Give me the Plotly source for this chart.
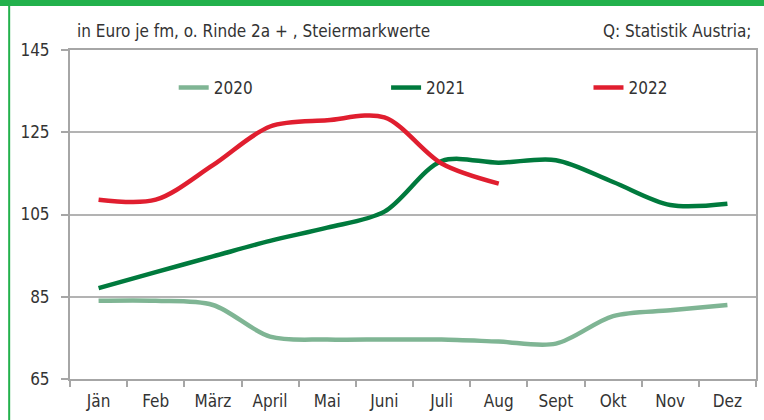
import plotly.graph_objects as go

months = ["Jän", "Feb", "März", "April", "Mai", "Juni", "Juli", "Aug", "Sept", "Okt", "Nov", "Dez"]
v2020 = [84.0, 84.0, 83.0, 75.3, 74.6, 74.6, 74.6, 74.1, 73.6, 80.3, 81.7, 83.0]
v2021 = [87.1, 91.0, 94.8, 98.6, 101.8, 105.7, 118.0, 117.6, 118.2, 112.9, 107.3, 107.6]
v2022 = [108.6, 108.6, 117.0, 126.4, 127.9, 128.6, 117.4, 112.5]
series_names = ["2020", "2021", "2022"]
colors = ["#7FB594", "#007A3D", "#E01E2F"]

FONT = "Liberation Sans Narrow, DejaVu Sans Condensed, sans-serif"
TXT = "#333333"
FS = 17

fig = go.Figure()
legend_ids = ["legend", "legend2", "legend3"]
for name, vals, col, lg in zip(series_names, [v2020, v2021, v2022], colors, legend_ids):
    fig.add_trace(go.Scatter(
        x=months[:len(vals)], y=vals, name=name, mode="lines", legend=lg,
        line=dict(color=col, width=4.5, shape="spline", smoothing=0.9),
    ))

PW = 688.0
PH = 329.0
leg_x_px = [189, 402, 605]
leg_common = dict(orientation="h", y=1.0 - 38 / PH, xanchor="left", yanchor="middle",
                  bgcolor="rgba(0,0,0,0)", font=dict(family=FONT, size=FS, color=TXT),
                  borderwidth=0)

fig.update_layout(
    width=764, height=420,
    margin=dict(l=70, r=6, t=50, b=41),
    paper_bgcolor="white", plot_bgcolor="white",
    font=dict(family=FONT, size=FS, color=TXT),
    showlegend=True,
    legend=dict(x=(leg_x_px[0] - 70 - 15) / PW, **leg_common),
    legend2=dict(x=(leg_x_px[1] - 70 - 15) / PW, **leg_common),
    legend3=dict(x=(leg_x_px[2] - 70 - 15) / PW, **leg_common),
    xaxis=dict(type="category", categoryorder="array", categoryarray=months,
               range=[-0.5, 11.5], showgrid=False, showline=True, linecolor="#A6A6A6",
               linewidth=2, mirror=True, ticks="outside", tickson="boundaries",
               ticklen=6, tickcolor="#A6A6A6", tickwidth=1.5, ticklabelstandoff=6,
               fixedrange=True),
    yaxis=dict(range=[65, 145], dtick=20, tick0=65, showgrid=True, gridcolor="#B3B3B3",
               gridwidth=1.5, showline=True, linecolor="#A6A6A6", linewidth=2, mirror=True,
               ticks="outside", ticklen=7, tickcolor="#A6A6A6", tickwidth=1.5,
               ticklabelstandoff=8, zeroline=False, fixedrange=True),
    shapes=[
        dict(type="rect", xref="paper", yref="paper", x0=-0.2, x1=1.1,
             y0=1.0 + 44 / PH, y1=1.3, fillcolor="#22B14C", line_width=0, layer="above"),
        dict(type="line", xref="paper", yref="paper", x0=-61 / PW, x1=-61 / PW,
             y0=-0.2, y1=1.2, line=dict(color="#22B14C", width=2)),
    ],
    annotations=[
        dict(text="in Euro je fm, o. Rinde 2a + , Steiermarkwerte", xref="paper", yref="paper",
             x=5 / PW, y=1.0 + 19 / PH, xanchor="left", yanchor="middle", showarrow=False,
             font=dict(family=FONT, size=FS, color=TXT)),
        dict(text="Q: Statistik Austria;", xref="paper", yref="paper",
             x=1.0 - 3 / PW, y=1.0 + 19 / PH, xanchor="right", yanchor="middle", showarrow=False,
             font=dict(family=FONT, size=FS, color=TXT)),
    ],
)

fig.write_html("out.html", config={"displayModeBar": False},
               post_script="document.body.style.margin='0';")
